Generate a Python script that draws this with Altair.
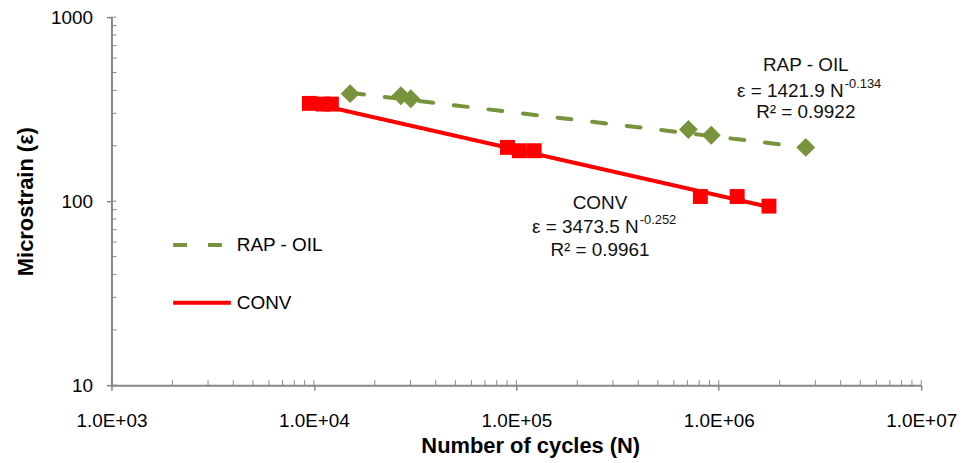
import altair as alt
import pandas as pd

# ---- data ----
series_names = ["RAP - OIL", "CONV"]
series_colors = ["#77933C", "#FF0000"]

conv_N = [9500, 11100, 12200, 90400, 103500, 122500, 811000, 1233000, 1770000]
conv_eps = [340, 337, 337, 196, 188, 188, 106, 106, 94]

rap_N = [15100, 26900, 30100, 708000, 918000, 2690000]
rap_eps = [384, 374, 360, 245, 228, 196]

# power trend lines (straight on log-log), end points
conv_trend_N = [9500, 1770000]
conv_trend_eps = [343, 93]
rap_trend_N = [15100, 2690000]
rap_trend_eps = [388, 196]

x_tick_values = [1000, 10000, 100000, 1000000, 10000000]
x_tick_labels = ["1.0E+03", "1.0E+04", "1.0E+05", "1.0E+06", "1.0E+07"]
y_tick_values = [10, 100, 1000]
x_minor = [m * 10 ** e for e in range(3, 7) for m in range(1, 10)] + [10000000]
y_minor = [m * 10 ** e for e in range(1, 3) for m in range(1, 10)] + [1000]

# annotations (anchor in data space)
ann_title_text = ["RAP - OIL", "CONV"]
ann_title_x = [2690000, 259000]
ann_title_y = [551, 97.5]
ann_eq_text = ["ε = 1421.9 N", "ε = 3473.5 N"]
ann_eq_sup = ["-0.134", "-0.252"]
ann_eq_x = [4140000, 402000]
ann_eq_y = [398, 72.3]
ann_r2_text = ["R² = 0.9922", "R² = 0.9961"]
ann_r2_y = [306, 54.3]

# ---- tables ----
pts_conv = pd.DataFrame({"N": conv_N, "eps": conv_eps})
pts_rap = pd.DataFrame({"N": rap_N, "eps": rap_eps})
lines = pd.DataFrame({
    "N": rap_trend_N + conv_trend_N,
    "eps": rap_trend_eps + conv_trend_eps,
    "series": [series_names[0]] * 2 + [series_names[1]] * 2,
})
titles = pd.DataFrame({"N": ann_title_x, "eps": ann_title_y, "t": ann_title_text})
eqs = pd.DataFrame({"N": ann_eq_x, "eps": ann_eq_y, "t": ann_eq_text, "s": ann_eq_sup})
r2s = pd.DataFrame({"N": ann_title_x, "eps": ann_r2_y, "t": ann_r2_text})
xminor_df = pd.DataFrame({"N": x_minor})
yminor_df = pd.DataFrame({"eps": y_minor})

FONT = "Liberation Sans"
AX = "#868686"
W, H = 814, 370

xs = alt.Scale(type="log", domain=[1000, 10000000], nice=False)
ys = alt.Scale(type="log", domain=[10, 1000], nice=False)

label_expr = " : ".join(
    f"datum.value == {v} ? '{l}'" for v, l in zip(x_tick_values, x_tick_labels)
) + " : ''"

x_axis = alt.Axis(values=x_tick_values, labelExpr=label_expr, title="Number of cycles  (N)",
                  tickSize=5, labelPadding=22, titlePadding=5, labelFlush=False,
                  titleX=421, titleAlign="center")
y_axis = alt.Axis(values=y_tick_values, format="d", title="Microstrain  (ε)",
                  tickSize=5, labelPadding=14, titlePadding=13, labelFlush=False)

leg = alt.Legend(title=None, orient="none", legendX=60, legendY=198,
                 symbolType="stroke", symbolSize=3364, symbolStrokeWidth=4,
                 labelFontSize=19, labelFont=FONT, labelColor="black",
                 labelOffset=4, rowPadding=17, padding=0)

base_x = alt.X("N:Q", scale=xs, axis=x_axis)
base_y = alt.Y("eps:Q", scale=ys, axis=y_axis)

line_layer = alt.Chart(lines).mark_line(strokeWidth=4, strokeCap="round").encode(
    x=base_x, y=base_y,
    color=alt.Color("series:N", scale=alt.Scale(domain=series_names, range=series_colors), legend=leg),
    strokeDash=alt.StrokeDash("series:N", scale=alt.Scale(domain=series_names, range=[[14, 21], [1, 0]]), legend=leg),
)

conv_pts = alt.Chart(pts_conv).mark_point(shape="square", filled=True, size=225, opacity=1,
                                          color=series_colors[1]).encode(
    x=alt.X("N:Q", scale=xs), y=alt.Y("eps:Q", scale=ys))
rap_pts = alt.Chart(pts_rap).mark_point(shape="diamond", filled=True, size=360, opacity=1,
                                        color=series_colors[0]).encode(
    x=alt.X("N:Q", scale=xs), y=alt.Y("eps:Q", scale=ys))

yminor = alt.Chart(yminor_df).mark_rule(color=AX, strokeWidth=1).encode(
    y=alt.Y("eps:Q", scale=ys), x=alt.value(0), x2=alt.value(5))
xminor = alt.Chart(xminor_df).mark_rule(color=AX, strokeWidth=1).encode(
    x=alt.X("N:Q", scale=xs), y=alt.value(H), y2=alt.value(H - 5))

txt = dict(font=FONT, fontSize=19, color="#111111", baseline="middle")
title_txt = alt.Chart(titles).mark_text(align="center", **txt).encode(
    x=alt.X("N:Q", scale=xs), y=alt.Y("eps:Q", scale=ys), text="t:N")
eq_txt = alt.Chart(eqs).mark_text(align="right", **txt).encode(
    x=alt.X("N:Q", scale=xs), y=alt.Y("eps:Q", scale=ys), text="t:N")
sup_txt = alt.Chart(eqs).mark_text(align="left", font=FONT, fontSize=13, color="#111111",
                                   baseline="middle", dx=1, dy=-7).encode(
    x=alt.X("N:Q", scale=xs), y=alt.Y("eps:Q", scale=ys), text="s:N")
r2_txt = alt.Chart(r2s).mark_text(align="center", **txt).encode(
    x=alt.X("N:Q", scale=xs), y=alt.Y("eps:Q", scale=ys), text="t:N")

chart = alt.layer(
    line_layer, yminor, xminor, conv_pts, rap_pts, title_txt, eq_txt, sup_txt, r2_txt
).properties(
    width=W, height=H,
    autosize=alt.AutoSizeParams(type="none"),
    padding={"left": 104, "top": 8, "right": 40, "bottom": 77},
).configure_view(stroke=None).configure_axis(
    grid=False, domainColor=AX, domainWidth=2, tickColor=AX, tickWidth=1.5,
    labelFont=FONT, labelFontSize=19, labelColor="black",
    titleFont=FONT, titleFontSize=22, titleFontWeight="bold", titleColor="black",
)

chart.save("out.html", embed_options={"renderer": "svg", "actions": False})
